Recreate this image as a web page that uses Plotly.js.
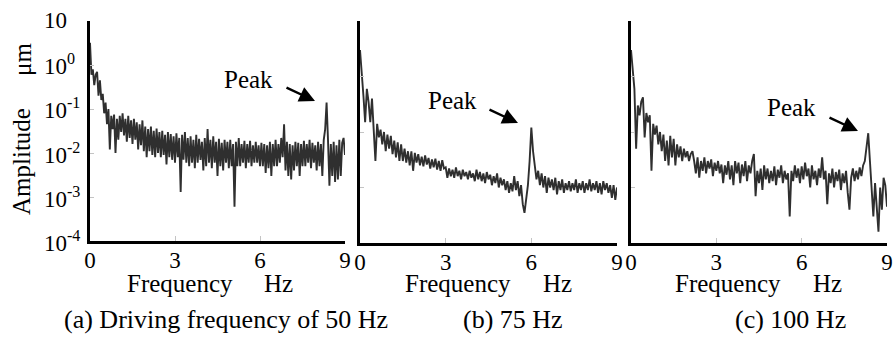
<!DOCTYPE html>
<html><head><meta charset="utf-8">
<script src="https://cdn.plot.ly/plotly-3.0.1.min.js"></script>
<style>html,body{margin:0;padding:0;background:#fff}#chart{width:896px;height:343px}</style>
</head><body><div id="chart"></div>
<script>
// Frequency grid (Hz)
const freqStart = 0;
const freqStepA = 0.05;
const freqStepBC = 0.06;

// (a) 50 Hz amplitude spectrum, µm
const ampA = [3.2,0.6,0.8,0.35,0.6,0.7,0.2,0.45,0.16,0.22,
0.08,0.14,0.045,0.1,0.012,0.07,0.035,0.075,0.01,0.06,
0.02,0.07,0.03,0.08,0.025,0.06,0.018,0.07,0.022,0.055,
0.016,0.06,0.02,0.05,0.012,0.045,0.015,0.055,0.011,0.04,
0.008,0.035,0.011,0.04,0.009,0.032,0.008,0.036,0.01,0.03,
0.008,0.032,0.009,0.026,0.0055,0.03,0.008,0.027,0.007,0.024,
0.006,0.028,0.008,0.022,0.0013,0.026,0.007,0.03,0.006,0.022,
0.005,0.024,0.006,0.02,0.0045,0.026,0.006,0.021,0.007,0.018,
0.004,0.022,0.005,0.035,0.006,0.02,0.0045,0.024,0.006,0.018,
0.003,0.021,0.005,0.017,0.004,0.02,0.006,0.018,0.0045,0.02,
0.005,0.016,0.0006,0.018,0.005,0.022,0.005,0.016,0.006,0.019,
0.0045,0.016,0.006,0.019,0.005,0.015,0.006,0.018,0.006,0.015,
0.005,0.017,0.005,0.016,0.0035,0.015,0.0045,0.018,0.003,0.016,
0.005,0.02,0.005,0.016,0.006,0.022,0.008,0.045,0.004,0.018,
0.003,0.016,0.0025,0.015,0.004,0.018,0.005,0.017,0.003,0.016,
0.005,0.019,0.005,0.016,0.006,0.02,0.0045,0.017,0.006,0.015,
0.004,0.018,0.005,0.016,0.003,0.02,0.035,0.14,0.02,0.0018,
0.016,0.003,0.018,0.0022,0.015,0.0025,0.02,0.003,0.017,0.022,
0.009];

// (b) 75 Hz
const ampB = [3.0,0.9,0.45,0.15,0.6,0.35,0.15,0.4,0.12,0.03,
0.14,0.08,0.11,0.06,0.1,0.045,0.09,0.05,0.085,0.04,
0.07,0.035,0.065,0.03,0.06,0.03,0.05,0.028,0.045,0.025,
0.045,0.02,0.042,0.028,0.04,0.025,0.036,0.024,0.038,0.026,
0.034,0.022,0.032,0.023,0.033,0.021,0.03,0.02,0.031,0.022,
0.023,0.015,0.022,0.016,0.021,0.015,0.023,0.016,0.02,0.014,
0.021,0.016,0.019,0.014,0.02,0.015,0.018,0.013,0.021,0.014,
0.019,0.013,0.018,0.012,0.019,0.014,0.017,0.011,0.016,0.012,
0.018,0.01,0.015,0.011,0.014,0.009,0.013,0.008,0.012,0.0085,
0.016,0.009,0.013,0.007,0.011,0.005,0.0035,0.006,0.011,0.03,
0.12,0.045,0.025,0.014,0.02,0.011,0.018,0.01,0.016,0.008,
0.015,0.01,0.014,0.009,0.015,0.0075,0.013,0.009,0.014,0.008,
0.012,0.009,0.013,0.0085,0.012,0.009,0.014,0.008,0.012,0.009,
0.013,0.008,0.012,0.009,0.014,0.0085,0.012,0.009,0.013,0.008,
0.012,0.0075,0.013,0.009,0.012,0.008,0.011,0.0065,0.011,0.006,
0.01];

// (c) 100 Hz
const ampC = [3.0,1.2,0.6,0.05,0.3,0.2,0.35,0.42,0.08,0.22,
0.15,0.2,0.02,0.14,0.09,0.13,0.06,0.1,0.045,0.09,
0.03,0.07,0.025,0.085,0.035,0.075,0.025,0.06,0.035,0.055,
0.03,0.05,0.035,0.045,0.03,0.04,0.045,0.03,0.018,0.035,
0.015,0.03,0.02,0.035,0.018,0.03,0.022,0.032,0.016,0.028,
0.02,0.03,0.018,0.026,0.012,0.025,0.017,0.03,0.014,0.025,
0.011,0.03,0.018,0.028,0.012,0.026,0.016,0.03,0.013,0.025,
0.018,0.03,0.04,0.007,0.02,0.012,0.022,0.009,0.025,0.014,
0.022,0.012,0.02,0.013,0.024,0.011,0.021,0.015,0.025,0.012,
0.02,0.014,0.018,0.003,0.02,0.013,0.025,0.015,0.022,0.012,
0.024,0.014,0.028,0.016,0.022,0.01,0.025,0.014,0.02,0.011,
0.022,0.015,0.035,0.014,0.02,0.005,0.018,0.012,0.022,0.01,
0.019,0.013,0.021,0.009,0.018,0.012,0.02,0.008,0.004,0.015,
0.022,0.013,0.02,0.014,0.023,0.016,0.025,0.03,0.06,0.095,
0.03,0.01,0.003,0.012,0.005,0.0016,0.01,0.004,0.015,0.011,
0.0045];

const xTickVals = [0, 3, 6, 9];
const yTickValsA = [10, 1, 0.1, 0.01, 0.001, 0.0001];
const yTickTextA = ["10", "10<sup>0</sup>", "10<sup>-1</sup>", "10<sup>-2</sup>", "10<sup>-3</sup>", "10<sup>-4</sup>"];
const yTickValsBC = [10, 1, 0.1, 0.01, 0.001];
const panelCaptions = ["(a) Driving frequency of 50 Hz", "(b) 75 Hz", "(c) 100 Hz"];
const xTitleWord = "Frequency", xUnit = "Hz";
const yTitleWord = "Amplitude", yUnit = "μm";
const peakLabel = "Peak";

const W = 896, H = 343;
const px = v => v / W;
const py = v => 1 - v / H;
const FAM = 'Liberation Serif, Times New Roman, serif';
const font = s => ({family: FAM, size: s, color: '#000'});

function xa(domain) {
  return {domain, range: [0, 9], tickvals: xTickVals, ticks: 'inside', ticklen: 5,
    tickcolor: '#c4c4c4', tickwidth: 1, showline: true, linecolor: '#000', linewidth: 2.5,
    showgrid: false, zeroline: false, tickfont: font(23), ticklabelstandoff: -3, fixedrange: true};
}
function ya(domain, range, tv) {
  return {domain, type: 'log', range, tickvals: tv, ticks: 'inside', ticklen: 4,
    tickcolor: '#c4c4c4', tickwidth: 1, showline: true, linecolor: '#000', linewidth: 3,
    showgrid: false, zeroline: false, showticklabels: false, fixedrange: true};
}

const lineStyle = {color: '#2f2f2f', width: 1.9};
const traces = [
  {type: 'scatter', mode: 'lines', x0: freqStart, dx: freqStepA, y: ampA, line: lineStyle, xaxis: 'x', yaxis: 'y'},
  {type: 'scatter', mode: 'lines', x0: freqStart, dx: freqStepBC, y: ampB, line: lineStyle, xaxis: 'x2', yaxis: 'y2'},
  {type: 'scatter', mode: 'lines', x0: freqStart, dx: freqStepBC, y: ampC, line: lineStyle, xaxis: 'x3', yaxis: 'y3'}
];

const ann = [];
const txt = (x, y, text, size, extra) => Object.assign({xref: 'paper', yref: 'paper', x: px(x), y: py(y),
  text, showarrow: false, font: font(size), xanchor: 'center', yanchor: 'middle'}, extra || {});
// y tick labels (left aligned like the original)
yTickValsA.forEach((v, i) => ann.push({xref: 'paper', yref: 'y', x: px(42), y: Math.log10(v),
  xanchor: 'left', yanchor: 'middle', text: yTickTextA[i], showarrow: false, font: font(23)}));
// y title
ann.push(txt(22, 162, yTitleWord, 25, {textangle: -90}));
ann.push(txt(22, 60, yUnit, 25, {textangle: -90}));
// x titles
[[180, 278], [458, 557], [728, 827]].forEach(([a, b]) => {
  ann.push(txt(a, 283, xTitleWord, 25));
  ann.push(txt(b, 283, xUnit, 25));
});
// Peak labels and arrows
[[248, 79, 315, 101], [452, 101, 518, 123], [791, 108, 858, 131]].forEach(([tx, ty, ax, ay]) => {
  ann.push(txt(tx, ty, peakLabel, 25));
  ann.push({xref: 'paper', yref: 'paper', x: px(ax), y: py(ay), text: '', showarrow: true,
    ax: -30, ay: -14, arrowhead: 2, arrowsize: 1.3, arrowwidth: 2.4, arrowcolor: '#000'});
});
// captions
[226, 513, 790].forEach((cx, i) => ann.push(txt(cx, 319, panelCaptions[i], 26)));

const layout = {
  width: W, height: H, margin: {l: 0, r: 0, t: 0, b: 0},
  paper_bgcolor: '#fff', plot_bgcolor: '#fff', showlegend: false,
  font: font(24),
  xaxis: xa([px(90), px(345)]),
  xaxis2: xa([px(360), px(617)]),
  xaxis3: xa([px(631), px(887)]),
  yaxis: ya([1 - 241 / H, 1 - 21 / H], [-4, 1], yTickValsA),
  yaxis2: Object.assign(ya([1 - 243 / H, 1 - 21 / H], [-3, 1], yTickValsBC), {anchor: 'x2'}),
  yaxis3: Object.assign(ya([1 - 243 / H, 1 - 21 / H], [-3, 1], yTickValsBC), {anchor: 'x3'}),
  annotations: ann
};
layout.xaxis2.anchor = 'y2';
layout.xaxis3.anchor = 'y3';

Plotly.newPlot('chart', traces, layout, {staticPlot: true, displayModeBar: false});
</script>
</body></html>
